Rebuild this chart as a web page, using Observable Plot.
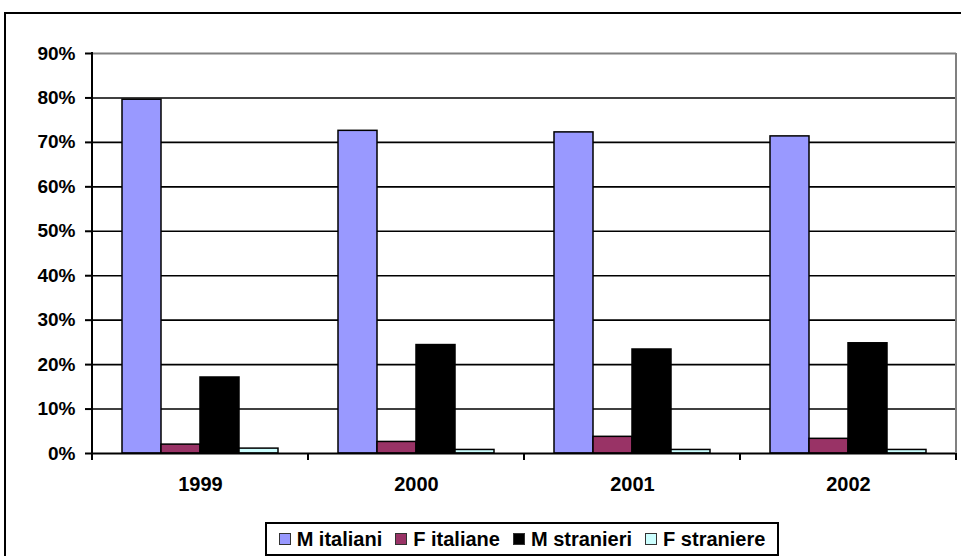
<!DOCTYPE html>
<html>
<head>
<meta charset="utf-8">
<script src="https://cdn.jsdelivr.net/npm/d3@7"></script>
<script src="https://cdn.jsdelivr.net/npm/@observablehq/plot@0.6"></script>
<style>
  html, body { margin: 0; padding: 0; background: white; width: 961px; height: 556px; overflow: hidden; }
  #frame { position: absolute; left: 4px; top: 12px; width: 980px; height: 580px; border-top: 2px solid #000; border-left: 2px solid #000; box-sizing: border-box; }
  #chart { position: absolute; left: 0; top: 0; }
  #legend { position: absolute; left: 265px; top: 522px; width: 514px; height: 34px; box-sizing: border-box;
    border: 2px solid #000; display: flex; align-items: center; justify-content: center; gap: 13px;
    font-family: "Liberation Sans", Arial, sans-serif; font-weight: bold; font-size: 20px; color: #000; background: #fff; }
  .item { display: flex; align-items: center; gap: 6px; white-space: nowrap; }
  .sw { width: 12px; height: 12px; box-sizing: border-box; border: 1.5px solid #333; }
</style>
</head>
<body>
<div id="frame"></div>
<div id="chart"></div>
<div id="legend"></div>
<script>
const years = ["1999", "2000", "2001", "2002"];
const series = ["M italiani", "F italiane", "M stranieri", "F straniere"];
const mItaliani = [0.796, 0.726, 0.7225, 0.7135];
const fItaliane = [0.020, 0.026, 0.0375, 0.033];
const mStranieri = [0.171, 0.244, 0.234, 0.248];
const fStraniere = [0.011, 0.008, 0.008, 0.008];
const colors = ["#9999FF", "#993366", "#000000", "#CCFFFF"];
const yTicks = [0, 0.1, 0.2, 0.3, 0.4, 0.5, 0.6, 0.7, 0.8, 0.9];

const seriesValues = [mItaliani, fItaliane, mStranieri, fStraniere];
const rows = [];
years.forEach((yr, i) => series.forEach((s, j) => rows.push({year: yr, series: s, value: seriesValues[j][i]})));

const chart = Plot.plot({
  width: 961,
  height: 500,
  marginLeft: 91,
  marginRight: 4,
  marginTop: 53,
  marginBottom: 47,
  style: {fontFamily: "'Liberation Sans', Arial, sans-serif", fontWeight: "bold", fontSize: "19px", color: "black", background: "transparent", overflow: "visible"},
  fx: {domain: years, padding: 0, label: null},
  x: {domain: series, paddingInner: 0, paddingOuter: 0.75, axis: null},
  y: {domain: [0, 0.9], label: null},
  color: {domain: series, range: colors},
  marks: [
    Plot.gridY(yTicks.slice(1, -1), {stroke: "black", strokeOpacity: 1, strokeWidth: 1.6}),
    Plot.ruleY([0.9], {stroke: "#808080", strokeWidth: 2}),
    Plot.barY(rows, {fx: "year", x: "series", y: "value", fill: "series", stroke: "black", strokeWidth: 1.5}),
    Plot.ruleY([0], {stroke: "black", strokeWidth: 2}),
    Plot.axisY(yTicks, {tickFormat: d3.format(".0%"), tickSize: 7, tickPadding: 10, strokeWidth: 2, stroke: "black", fontSize: 19, fontWeight: "bold", label: null}),
    Plot.axisFx({anchor: "bottom", tickSize: 0, tickPadding: 23, fontSize: 20, fontWeight: "bold", label: null})
  ]
});
document.getElementById("chart").appendChild(chart);

// Axis lines and category-boundary ticks, positioned through Plot's own scales
const fx = chart.scale("fx");
const y = chart.scale("y");
const svg = d3.select(chart);
const y0 = y.apply(0), yTop = y.apply(0.9);
const bounds = years.map(d => fx.apply(d)).concat([fx.apply(years[years.length - 1]) + fx.bandwidth]);
const g = svg.append("g");
g.append("line").attr("x1", bounds[bounds.length - 1]).attr("x2", bounds[bounds.length - 1])
  .attr("y1", yTop).attr("y2", y0).attr("stroke", "#808080").attr("stroke-width", 2);
g.append("line").attr("x1", bounds[0]).attr("x2", bounds[0])
  .attr("y1", yTop - 1).attr("y2", y0 + 7).attr("stroke", "black").attr("stroke-width", 2);
bounds.slice(1).forEach(bx => {
  g.append("line").attr("x1", bx).attr("x2", bx).attr("y1", y0).attr("y2", y0 + 7)
    .attr("stroke", "black").attr("stroke-width", 2);
});

// Legend
const legend = document.getElementById("legend");
series.forEach((s, i) => {
  const item = document.createElement("div");
  item.className = "item";
  const sw = document.createElement("div");
  sw.className = "sw";
  sw.style.background = colors[i];
  const t = document.createElement("span");
  t.textContent = s;
  item.appendChild(sw);
  item.appendChild(t);
  legend.appendChild(item);
});
</script>
</body>
</html>
